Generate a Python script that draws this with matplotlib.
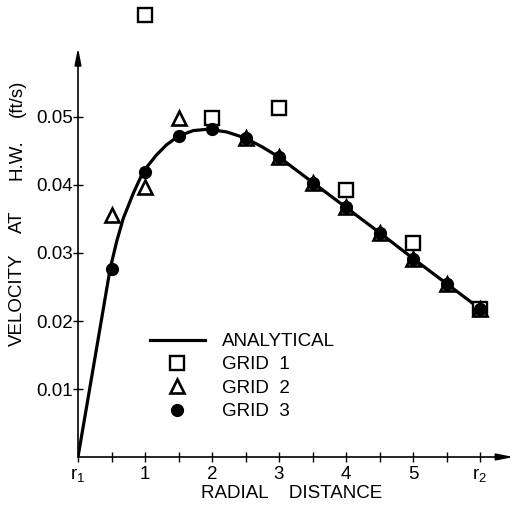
import matplotlib
matplotlib.use("Agg")
import matplotlib.pyplot as plt
from matplotlib.lines import Line2D

plt.rcParams['font.family'] = ['Liberation Sans', 'DejaVu Sans']
plt.rcParams['mathtext.default'] = 'regular'

# analytical curve
analytic_x = [0, 0.25, 0.48, 0.58, 0.676, 0.826, 0.975, 1.17, 1.32, 1.50, 1.72,
              1.94, 2.22, 2.5, 2.75, 3.0, 3.5, 4.0, 4.5, 5.0, 5.5, 6.0]
analytic_y = [0, 0.0144, 0.0277, 0.0318, 0.0351, 0.0388, 0.0420, 0.0444, 0.0459,
              0.0472, 0.0480, 0.0482, 0.0478, 0.0469, 0.0456, 0.0441, 0.0404,
              0.0367, 0.0330, 0.0292, 0.0255, 0.0218]

grid1_x = [1, 2, 3, 4, 5, 6]
grid1_y = [0.065, 0.0498, 0.0513, 0.0393, 0.0315, 0.0218]

grid2_x = [0.5, 1, 1.5, 2.5, 3, 3.5, 4, 4.5, 5, 5.5, 6]
grid2_y = [0.0356, 0.0397, 0.0498, 0.0469, 0.0441, 0.0403, 0.0367, 0.0330,
           0.0291, 0.0254, 0.0218]

grid3_x = [0.5, 1, 1.5, 2, 2.5, 3, 3.5, 4, 4.5, 5, 5.5, 6]
grid3_y = [0.0277, 0.0419, 0.0472, 0.0482, 0.0469, 0.0441, 0.0403, 0.0367,
           0.0330, 0.0291, 0.0254, 0.0218]

xtick_pos = [0, 1, 2, 3, 4, 5, 6]
xtick_labels = ["r$_1$", "1", "2", "3", "4", "5", "r$_2$"]
ytick_pos = [0.01, 0.02, 0.03, 0.04, 0.05]
ytick_labels = ["0.01", "0.02", "0.03", "0.04", "0.05"]

# y label words and their centres (figure pixels from top)
ylabel_words = ["VELOCITY", "AT", "H.W.", "(ft/s)"]
ylabel_centres = [300, 222, 160, 98]

FS = 13.5
fig = plt.figure(figsize=(5.14, 5.08), dpi=100)
ax = fig.add_axes([78 / 514, 51 / 508, 435.5 / 514, 408 / 508])
ax.set_xlim(0, 6.5)
ax.set_ylim(0, 0.06)

ax.plot(analytic_x, analytic_y, color='black', lw=2.3, zorder=2,
        solid_joinstyle='round')
ax.plot(grid1_x, grid1_y, ls='none', marker='s', ms=9.5, mfc='white', mec='black',
        mew=1.7, zorder=3, clip_on=False)
ax.plot(grid2_x, grid2_y, ls='none', marker='^', ms=9.5, mfc='white', mec='black',
        mew=1.9, zorder=4, clip_on=False)
ax.plot(grid3_x, grid3_y, ls='none', marker='o', ms=8.5, color='black', zorder=5,
        clip_on=False)

for s in ax.spines.values():
    s.set_visible(False)
ax.annotate("", xy=(0, 1.003), xytext=(0, 0), xycoords='axes fraction',
            arrowprops=dict(arrowstyle='-|>,head_length=1.0,head_width=0.2',
                            color='black', lw=1.2, shrinkA=0, shrinkB=0))
ax.annotate("", xy=(1.0, 0), xytext=(0, 0), xycoords='axes fraction',
            arrowprops=dict(arrowstyle='-|>,head_length=1.0,head_width=0.2',
                            color='black', lw=1.2, shrinkA=0, shrinkB=0))

ax.set_xticks(xtick_pos)
ax.set_xticklabels(xtick_labels)
ax.set_xticks([0.5, 1.5, 2.5, 3.5, 4.5, 5.5], minor=True)
ax.set_yticks(ytick_pos)
ax.set_yticklabels(ytick_labels)
ax.tick_params(which='both', direction='inout', length=7, width=1, labelsize=FS,
               color='black', pad=3)
ax.tick_params(axis='y', pad=0)

for word, yc in zip(ylabel_words, ylabel_centres):
    fig.text(17 / 514, 1 - yc / 508, word, rotation=90, ha='center', va='center',
             fontsize=FS)
fig.text(292 / 514, 1 - 494 / 508, "RADIAL    DISTANCE", ha='center', va='center',
         fontsize=FS)

handles = [
    Line2D([], [], color='black', lw=2.3),
    Line2D([], [], ls='none', marker='s', ms=9.5, mfc='white', mec='black', mew=1.7),
    Line2D([], [], ls='none', marker='^', ms=9.5, mfc='white', mec='black', mew=1.9),
    Line2D([], [], ls='none', marker='o', ms=8.5, color='black'),
]
labels = ["ANALYTICAL", "GRID  1", "GRID  2", "GRID  3"]
ax.legend(handles, labels, loc='upper left', bbox_to_anchor=(150 / 514, 1 - 333 / 508),
          bbox_transform=fig.transFigure, frameon=False, fontsize=FS,
          handlelength=2.93, handletextpad=0.9, labelspacing=0.33, borderpad=0,
          borderaxespad=0)

fig.savefig("out.png", dpi=100)
